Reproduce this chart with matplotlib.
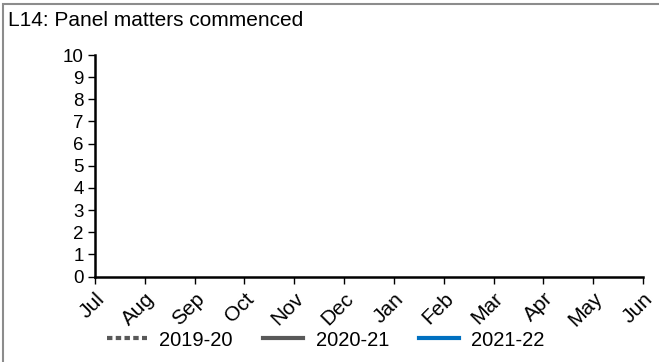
import matplotlib.pyplot as plt
from matplotlib.patches import Rectangle
import matplotlib.transforms as mtransforms

# ==============================
# DATA
# ==============================
TITLE = "L14: Panel matters commenced"
months = ["Jul", "Aug", "Sep", "Oct", "Nov", "Dec", "Jan", "Feb", "Mar", "Apr", "May", "Jun"]
series_names = ["2019-20", "2020-21", "2021-22"]
values_2019 = []
values_2020 = []
values_2021 = []
y_ticks = list(range(0, 11))

plt.rcParams['font.family'] = ['Liberation Sans', 'DejaVu Sans']

fig = plt.figure(figsize=(6.59, 3.62), dpi=100)
ax = fig.add_axes([95 / 659, 1 - 276.5 / 362, (643 - 95) / 659, (276.5 - 55) / 362])

# outer frame
fig.patches.append(Rectangle((3 / 659, -0.05), 1.05, 1 - 3.5 / 362 + 0.05,
                             transform=fig.transFigure, fill=False,
                             edgecolor='#8c8c8c', linewidth=1.5))

fig.text(8 / 659, 1 - 20 / 362, TITLE, fontsize=15, va='center', ha='left')

l1, = ax.plot(range(len(values_2019)), values_2019, color='#595959', lw=3, linestyle=(0, (1.3, 0.8)))
l2, = ax.plot(range(len(values_2020)), values_2020, color='#595959', lw=3)
l3, = ax.plot(range(len(values_2021)), values_2021, color='#0070c0', lw=3)

ax.set_xlim(0, len(months) - 1)
ax.set_ylim(0, 10)
ax.set_yticks(y_ticks)
ax.set_yticklabels([str(v) for v in y_ticks], fontsize=13.5)
ax.set_xticks(range(len(months)))
ax.set_xticklabels(months, fontsize=15, rotation=45, ha='right', va='top',
                   rotation_mode='anchor')
shift = mtransforms.ScaledTranslation(6 / 100, 0, fig.dpi_scale_trans)
for lab in ax.get_xticklabels():
    lab.set_transform(lab.get_transform() + shift)

for side in ['top', 'right']:
    ax.spines[side].set_visible(False)
for side in ['left', 'bottom']:
    ax.spines[side].set_linewidth(1.8)
ax.tick_params(axis='both', direction='out', length=5, width=1, pad=3)
ax.tick_params(axis='x', pad=4)

fig.legend([l1, l2, l3], series_names, loc='center', bbox_to_anchor=(326 / 659, 1 - 340 / 362),
           ncol=3, frameon=False, fontsize=14.5, handlelength=2.0, columnspacing=1.5,
           handletextpad=0.6, borderpad=0, borderaxespad=0)

fig.savefig("out.png", dpi=100)
